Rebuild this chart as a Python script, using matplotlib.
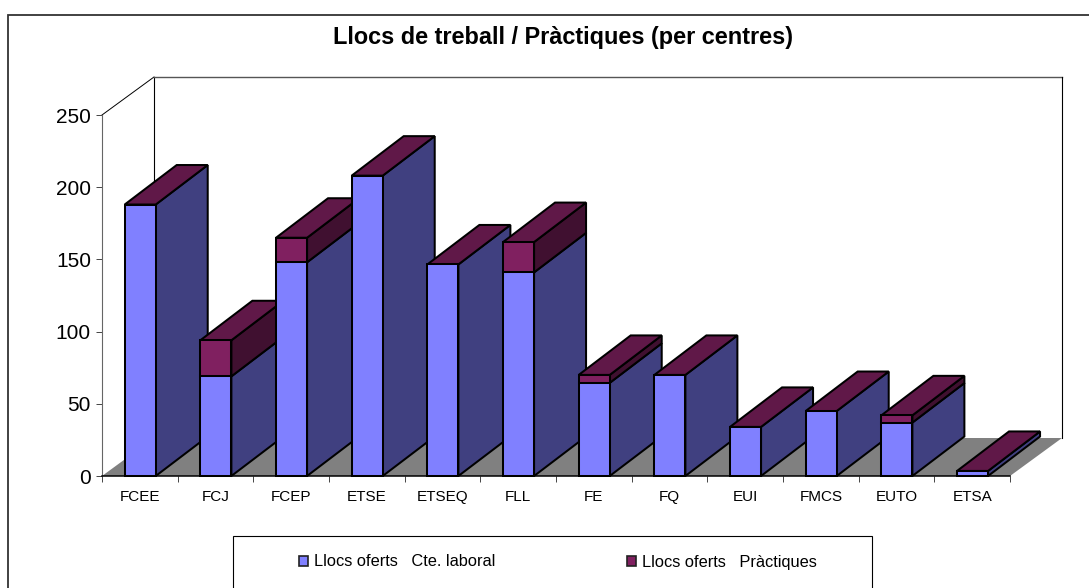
import matplotlib
matplotlib.use('Agg')
from matplotlib import pyplot as plt
from matplotlib.patches import Patch, Rectangle

plt.rcParams['font.family'] = ['Liberation Sans', 'DejaVu Sans']

centres = ['FCEE', 'FCJ', 'FCEP', 'ETSE', 'ETSEQ', 'FLL', 'FE', 'FQ', 'EUI', 'FMCS', 'EUTO', 'ETSA']
laboral = [188, 69, 148, 208, 146.5, 141, 64.5, 70, 34, 45, 37, 3.5]
practiques = [0, 25, 17, 0, 0, 21, 5.5, 0, 0, 0, 5, 0]

W, H = 1089, 588
# depth of the fake 3d box, in axis units
dx = 52 / 75.67
dy = 38 / 1.444
bar_dy = 39.5 / 1.444
bar_w = 0.41

fig = plt.figure(figsize=(W / 100, H / 100), dpi=100)
ax = fig.add_axes([102 / W, 1 - 476 / H, 908 / W, 361 / H])
ax.set_xlim(0, 12)
ax.set_ylim(0, 250)

# outer frame and legend box run off the edge of the picture
fig.add_artist(Rectangle((7.5 / W, -0.05), 1.1, 1.05 - 15 / H, transform=fig.transFigure,
                         fill=False, ec='#333333', lw=1.3))
fig.add_artist(Rectangle((233 / W, -0.05), 639 / W, 0.05 + 1 - 536 / H, transform=fig.transFigure,
                         fill=False, ec='black', lw=0.8))

# floor and walls
ax.fill([0, 12, 12 + dx, dx], [0, 0, dy, dy], color='#808080', zorder=1, clip_on=False, lw=0)
ax.plot([0, dx], [250, 250 + dy], color='black', lw=0.7, clip_on=False, zorder=1)
ax.plot([dx, dx], [dy, 250 + dy], color='black', lw=0.8, clip_on=False, zorder=1)
ax.plot([dx, 12 + dx], [250 + dy, 250 + dy], color='#555555', lw=1, clip_on=False, zorder=1)
ax.plot([12 + dx, 12 + dx], [dy, 250 + dy], color='black', lw=0.8, clip_on=False, zorder=1)

edge = dict(edgecolor='black', linewidth=1.45, clip_on=False)
for i in range(len(centres)):
    z = 3 + i
    a = laboral[i]
    b = practiques[i]
    x0 = i + 0.5 - bar_w / 2 + 0.005
    x1 = x0 + bar_w
    total = a + b

    # right hand side
    ax.fill([x1, x1 + dx, x1 + dx, x1], [0, bar_dy, a + bar_dy, a], facecolor='#404080', zorder=z, **edge)
    if b > 0:
        ax.fill([x1, x1 + dx, x1 + dx, x1], [a, a + bar_dy, total + bar_dy, total], facecolor='#401030', zorder=z, **edge)
    # top
    ax.fill([x0, x0 + dx, x1 + dx, x1], [total, total + bar_dy, total + bar_dy, total], facecolor='#601848', zorder=z, **edge)
    # front
    ax.bar(x0, a, width=bar_w, align='edge', color='#8080ff', zorder=z, **edge)
    if b > 0:
        ax.bar(x0, b, width=bar_w, bottom=a, align='edge', color='#802060', zorder=z, **edge)

ax.spines['top'].set_visible(False)
ax.spines['right'].set_visible(False)
ax.spines['left'].set_color('#666666')
ax.spines['left'].set_linewidth(0.8)
ax.spines['bottom'].set_linewidth(1.1)
ax.spines['bottom'].set_zorder(30)
ax.patch.set_visible(False)

ax.set_yticks([0, 50, 100, 150, 200, 250])
ax.set_xticks(range(13))
ax.set_xticklabels([])
ax.set_xticks([i + 0.5 for i in range(12)], minor=True)
ax.set_xticklabels(centres, minor=True, fontsize=11)
ax.tick_params(axis='x', which='minor', length=0, pad=10)
ax.tick_params(axis='x', which='major', length=4, width=0.7, color='#444444')
ax.tick_params(axis='y', length=4, width=0.7, labelsize=15, pad=4, color='#444444')

fig.text(563 / W, 1 - 37.5 / H, 'Llocs de treball / Pràctiques (per centres)', fontsize=16.9, fontweight='bold',
         ha='center', va='center')

handles = [Patch(facecolor='#8080ff', edgecolor='#222222', lw=1.2),
           Patch(facecolor='#802060', edgecolor='#222222', lw=1.2)]
fig.legend(handles, ['Llocs oferts   Cte. laboral', 'Llocs oferts   Pràctiques'], ncol=2, frameon=False,
           fontsize=11.8, handlelength=0.55, handleheight=0.6, handletextpad=0.35, columnspacing=8.05,
           borderpad=0, borderaxespad=0, loc='center left', bbox_to_anchor=(299 / W, 1 - 562 / H))

plt.savefig('out.png', dpi=100)
